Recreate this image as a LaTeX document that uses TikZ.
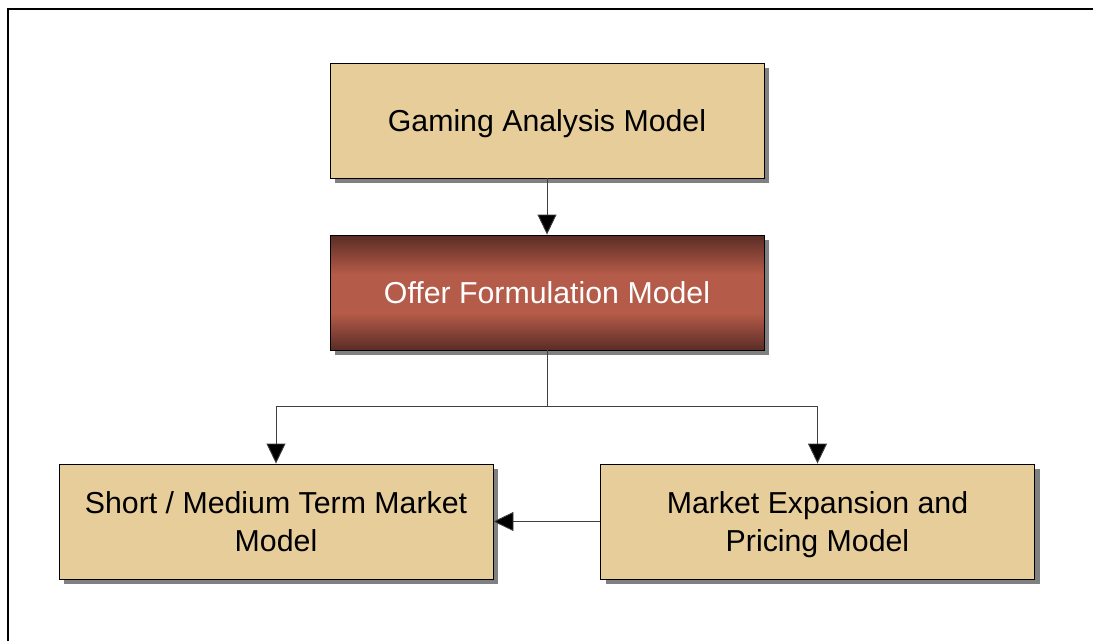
\documentclass[tikz,border=0pt]{standalone}
\usepackage{fontspec}
\setmainfont{Liberation Sans}
\usetikzlibrary{arrows.meta,shadows,positioning}

\definecolor{tan}{HTML}{E6CD9A}
\definecolor{brickdark}{HTML}{5A2C25}
\definecolor{brickmid}{HTML}{B55B49}
\definecolor{wire}{HTML}{404040}
\definecolor{shade}{HTML}{808080}

% the node box occupies the band 25bp--75bp of the shading
\pgfdeclareverticalshading{brick}{100bp}{
  color(0bp)=(brickdark);
  color(25bp)=(brickdark);
  color(41bp)=(brickmid);
  color(58bp)=(brickmid);
  color(75bp)=(brickdark);
  color(100bp)=(brickdark)
}

\tikzset{
  model/.style={
    draw=black, line width=0.9pt, fill=tan,
    minimum width=434pt, minimum height=115pt,
    inner sep=0pt, align=center,
    font=\fontsize{30.3}{38}\selectfont,
    text height=22pt, text depth=0pt,
    drop shadow={shadow xshift=5pt, shadow yshift=-5pt,
                 fill=shade, opacity=1}
  },
  twoline/.style={text height=60pt},
  focus/.style={model, shading=brick, text=white},
  link/.style={draw=wire, line width=0.9pt},
  flow/.style={link, -{Triangle[length=20pt,width=19pt,fill=black]}}
}

\begin{document}
\begin{tikzpicture}[x=1pt,y=-1pt]
  \useasboundingbox (0,0) rectangle (1093,641);

  % outer frame
  \draw[line width=2pt] (8,641) -- (8,9) -- (1093,9);

  % models
  \node[model] (gaming) at (547,120.5) {Gaming Analysis Model};
  \node[focus] (offer)  at (547,292.5) {Offer Formulation Model};
  \node[model,twoline] (short)  at (276,521.5) {Short / Medium Term Market\\Model};
  \node[model,twoline] (market) at (817.5,521.5) {Market Expansion and\\Pricing Model};

  % connectors
  \coordinate (split) at (547,406.5);
  \draw[flow] (gaming) -- (offer);
  \draw[link] (offer.south) -- (split);
  \draw[flow] (split) -| (short.north);
  \draw[flow] (split) -| (market.north);
  \draw[flow] (market.west) -- (short.east);
\end{tikzpicture}
\end{document}
